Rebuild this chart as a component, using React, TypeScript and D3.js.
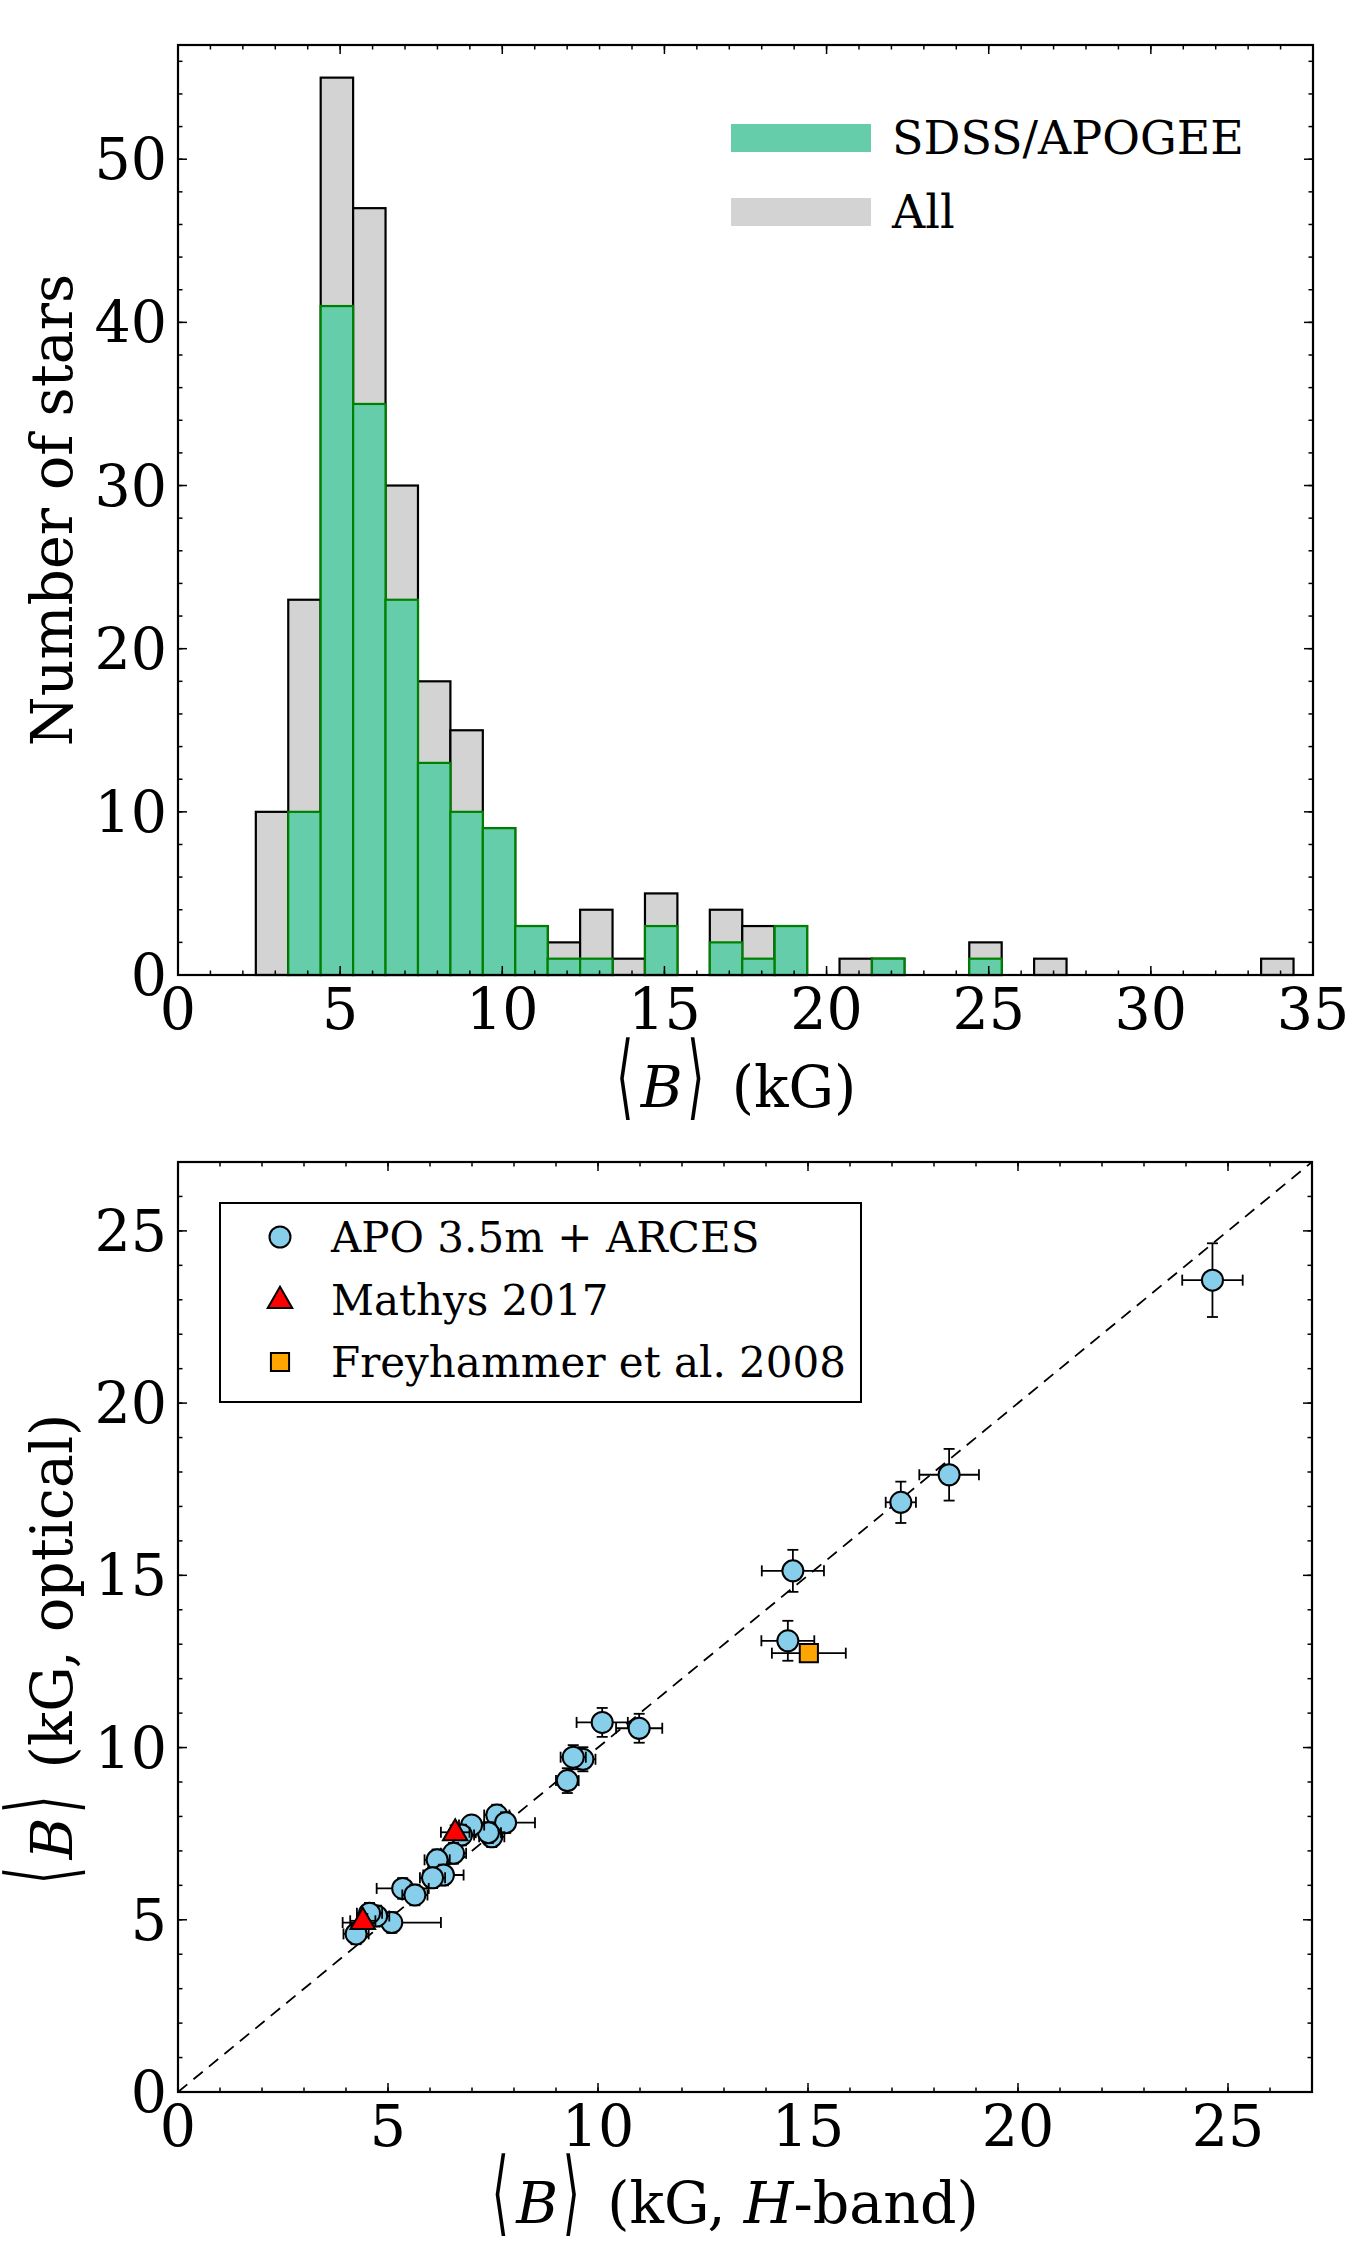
import React from "react";
import * as d3 from "d3";

// ---------- Histogram data ----------
const binEdges = [2.4, 3.4, 4.4, 5.4, 6.4, 7.4, 8.4, 9.4, 10.4, 11.4, 12.4, 13.4, 14.4, 15.4, 16.4, 17.4, 18.4, 19.4, 20.4, 21.4, 22.4, 23.4, 24.4, 25.4, 26.4, 27.4, 28.4, 29.4, 30.4, 31.4, 32.4, 33.4, 34.4];
const allCounts = [10, 23, 55, 47, 30, 18, 15, 9, 3, 2, 4, 1, 5, 0, 4, 3, 3, 0, 1, 1, 0, 0, 2, 0, 1, 0, 0, 0, 0, 0, 0, 1];
const sdssCounts = [0, 10, 41, 35, 23, 13, 10, 9, 3, 1, 1, 0, 3, 0, 2, 1, 3, 0, 0, 1, 0, 0, 1, 0, 0, 0, 0, 0, 0, 0, 0, 0];
const histXTicks = [0, 5, 10, 15, 20, 25, 30, 35];
const histYTicks = [0, 10, 20, 30, 40, 50];

// ---------- Scatter data ----------
const apoH = [24.63, 18.36, 17.21, 14.64, 14.52, 10.98, 10.10, 9.64, 9.41, 9.27, 7.59, 7.80, 7.47, 7.39, 6.99, 6.75, 6.56, 6.17, 6.32, 6.06, 5.35, 5.64, 5.09, 4.73, 4.56, 4.24];
const apoOpt = [23.57, 17.92, 17.12, 15.13, 13.10, 10.56, 10.73, 9.66, 9.72, 9.04, 8.04, 7.82, 7.41, 7.53, 7.75, 7.46, 6.93, 6.74, 6.30, 6.22, 5.91, 5.72, 4.92, 5.11, 5.19, 4.59];
const apoHerr = [0.72, 0.71, 0.36, 0.74, 0.63, 0.55, 0.61, 0.30, 0.30, 0.27, 0.30, 0.70, 0.30, 0.30, 0.30, 0.30, 0.30, 0.30, 0.48, 0.30, 0.62, 0.30, 1.17, 0.30, 0.30, 0.30];
const apoOptErr = [1.07, 0.75, 0.60, 0.61, 0.58, 0.42, 0.42, 0.35, 0.35, 0.36, 0.30, 0.30, 0.30, 0.30, 0.25, 0.30, 0.30, 0.30, 0.30, 0.30, 0.30, 0.30, 0.30, 0.30, 0.30, 0.30];
const mathysH = [6.60, 4.40];
const mathysOpt = [7.54, 4.97];
const mathysHerr = [0.34, 0.30];
const mathysOptErr = [0.20, 0.20];
const freyH = [15.02];
const freyOpt = [12.74];
const freyHerr = [0.88];
const freyOptErr = [0.20];
const scatXTicks = [0, 5, 10, 15, 20, 25];
const scatYTicks = [0, 5, 10, 15, 20, 25];

const FONT = "'DejaVu Serif', 'DejaVu Sans', serif";
const TICK_FS = 57;
const LEG_FS = 46;

let _ctx: CanvasRenderingContext2D | null = null;
function measure(txt: string, italic = false) {
  if (!_ctx) _ctx = document.createElement("canvas").getContext("2d");
  if (!_ctx) return txt.length * TICK_FS * 0.6;
  _ctx.font = `${italic ? "italic " : ""}${TICK_FS}px "DejaVu Serif"`;
  return _ctx.measureText(txt).width;
}

function minorRange(a: number, b: number, step: number) {
  return d3.range(a, b + 1e-9, step);
}

function Frame({ x, y, xMinor, yMinor, xTicks, yTicks }: any) {
  const [x0, x1] = x.range();
  const [y0, y1] = y.range();
  const maj = 9, mnr = 4.5;
  const els: any[] = [];
  xMinor.forEach((v: number, i: number) => {
    const px = x(v);
    if (px < x0 + 0.5 || px > x1 - 0.5) return;
    els.push(<line key={"xm" + i} x1={px} x2={px} y1={y0} y2={y0 - mnr} stroke="#000" strokeWidth={1.5} />);
    els.push(<line key={"xmt" + i} x1={px} x2={px} y1={y1} y2={y1 + mnr} stroke="#000" strokeWidth={1.5} />);
  });
  yMinor.forEach((v: number, i: number) => {
    const py = y(v);
    if (py > y0 - 0.5 || py < y1 + 0.5) return;
    els.push(<line key={"ym" + i} x1={x0} x2={x0 + mnr} y1={py} y2={py} stroke="#000" strokeWidth={1.5} />);
    els.push(<line key={"ymr" + i} x1={x1} x2={x1 - mnr} y1={py} y2={py} stroke="#000" strokeWidth={1.5} />);
  });
  xTicks.forEach((v: number, i: number) => {
    const px = x(v);
    if (px > x0 + 0.5 && px < x1 - 0.5) {
      els.push(<line key={"xM" + i} x1={px} x2={px} y1={y0} y2={y0 - maj} stroke="#000" strokeWidth={1.5} />);
      els.push(<line key={"xMt" + i} x1={px} x2={px} y1={y1} y2={y1 + maj} stroke="#000" strokeWidth={1.5} />);
    }
    els.push(
      <text key={"xl" + i} x={px} y={y0 + 54} textAnchor="middle" fontFamily={FONT} fontSize={TICK_FS}>
        {d3.format("d")(v)}
      </text>
    );
  });
  yTicks.forEach((v: number, i: number) => {
    const py = y(v);
    if (py < y0 - 0.5 && py > y1 + 0.5) {
      els.push(<line key={"yM" + i} x1={x0} x2={x0 + maj} y1={py} y2={py} stroke="#000" strokeWidth={1.5} />);
      els.push(<line key={"yMr" + i} x1={x1} x2={x1 - maj} y1={py} y2={py} stroke="#000" strokeWidth={1.5} />);
    }
    els.push(
      <text key={"yl" + i} x={x0 - 11} y={py + 20} textAnchor="end" fontFamily={FONT} fontSize={TICK_FS}>
        {d3.format("d")(v)}
      </text>
    );
  });
  els.push(<rect key="spine" x={x0} y={y1} width={x1 - x0} height={y0 - y1} fill="none" stroke="#000" strokeWidth={2.2} />);
  return <g>{els}</g>;
}

// Label of the form <B> + rest, with tall thin angle brackets
function MathLabel({ cx, cy, rotate, parts }: any) {
  const restW = parts.reduce((s: number, p: any) => s + measure(p.t, p.italic), 0);
  const W = 116 + restW;
  const tr = rotate
    ? `translate(${cx},${cy}) rotate(-90) translate(${-W / 2},0)`
    : `translate(${cx - W / 2},${cy})`;
  const bracket = (ch: string, bx: number) => (
    <text x={0} y={0} transform={`translate(${bx},0.5) scale(1.15,2.45)`} textAnchor="middle"
      fontFamily="'DejaVu Sans', sans-serif" fontSize={38}>{ch}</text>
  );
  return (
    <g transform={tr}>
      {bracket("⟨", 9)}
      <text x={25} y={0} fontFamily={FONT} fontSize={TICK_FS} fontStyle="italic">B</text>
      {bracket("⟩", 80)}
      <text x={116} y={0} fontFamily={FONT} fontSize={TICK_FS}>
        {parts.map((p: any, i: number) => (
          <tspan key={i} fontStyle={p.italic ? "italic" : "normal"}>{p.t}</tspan>
        ))}
      </text>
    </g>
  );
}

function ErrPoint({ cx, cy, ex0, ex1, ey0, ey1, children }: any) {
  const cap = 5.5;
  return (
    <g>
      <line x1={ex0} x2={ex1} y1={cy} y2={cy} stroke="#000" strokeWidth={1.8} />
      <line x1={cx} x2={cx} y1={ey0} y2={ey1} stroke="#000" strokeWidth={1.8} />
      <line x1={ex0} x2={ex0} y1={cy - cap} y2={cy + cap} stroke="#000" strokeWidth={1.8} />
      <line x1={ex1} x2={ex1} y1={cy - cap} y2={cy + cap} stroke="#000" strokeWidth={1.8} />
      <line x1={cx - cap} x2={cx + cap} y1={ey0} y2={ey0} stroke="#000" strokeWidth={1.8} />
      <line x1={cx - cap} x2={cx + cap} y1={ey1} y2={ey1} stroke="#000" strokeWidth={1.8} />
      {children}
    </g>
  );
}

export default function App() {
  const hx = d3.scaleLinear().domain([0, 35]).range([178, 1313]);
  const hy = d3.scaleLinear().domain([0, 57]).range([975, 45]);
  const sx = d3.scaleLinear().domain([0, 27]).range([178, 1312]);
  const sy = d3.scaleLinear().domain([0, 27]).range([2092, 1162]);

  const bins = allCounts.map((c, i) => ({ x0: binEdges[i], x1: binEdges[i + 1], all: c, sdss: sdssCounts[i] }));

  const tri = d3.symbol().type(d3.symbolTriangle).size(260)();
  const sq = d3.symbol().type(d3.symbolSquare).size(330)();
  const diag = d3.line<number>().x((d) => sx(d)).y((d) => sy(d));

  return (
    <svg width={1350} height={2250} style={{ position: "absolute", left: 0, top: 0, background: "#fff" }}>
      <rect x={0} y={0} width={1350} height={2250} fill="#fff" />
      {/* ---------- Top histogram ---------- */}
      <g>
        {bins.filter((b) => b.all > 0).map((b, i) => (
          <rect key={"a" + i} x={hx(b.x0)} y={hy(b.all)} width={hx(b.x1) - hx(b.x0)} height={hy(0) - hy(b.all)}
            fill="#D3D3D3" stroke="#000" strokeWidth={2.2} />
        ))}
        {bins.filter((b) => b.sdss > 0).map((b, i) => (
          <rect key={"s" + i} x={hx(b.x0)} y={hy(b.sdss)} width={hx(b.x1) - hx(b.x0)} height={hy(0) - hy(b.sdss)}
            fill="#66CDAA" stroke="#008000" strokeWidth={2.2} />
        ))}
      </g>
      <Frame x={hx} y={hy} xTicks={histXTicks} yTicks={histYTicks} xMinor={minorRange(0, 35, 1)} yMinor={minorRange(0, 57, 2)} />
      <rect x={731} y={124} width={140} height={28} fill="#66CDAA" />
      <text x={892} y={138} dy={16} fontFamily={FONT} fontSize={LEG_FS}>SDSS/APOGEE</text>
      <rect x={731} y={198} width={140} height={28} fill="#D3D3D3" />
      <text x={892} y={212} dy={16} fontFamily={FONT} fontSize={LEG_FS}>All</text>
      <MathLabel cx={745} cy={1107} parts={[{ t: " (kG)" }]} />
      <text x={72} y={510} transform="rotate(-90 72 510)" textAnchor="middle" fontFamily={FONT} fontSize={TICK_FS}>Number of stars</text>

      {/* ---------- Bottom scatter ---------- */}
      <path d={diag([0, 27]) || ""} stroke="#000" strokeWidth={1.8} strokeDasharray="12,8" fill="none" />
      {apoH.map((v, i) => (
        <ErrPoint key={"p" + i} cx={sx(v)} cy={sy(apoOpt[i])} ex0={sx(v - apoHerr[i])} ex1={sx(v + apoHerr[i])}
          ey0={sy(apoOpt[i] - apoOptErr[i])} ey1={sy(apoOpt[i] + apoOptErr[i])}>
          <circle cx={sx(v)} cy={sy(apoOpt[i])} r={10.5} fill="#87CEEB" stroke="#000" strokeWidth={2} />
        </ErrPoint>
      ))}
      {mathysH.map((v, i) => (
        <ErrPoint key={"m" + i} cx={sx(v)} cy={sy(mathysOpt[i])} ex0={sx(v - mathysHerr[i])} ex1={sx(v + mathysHerr[i])}
          ey0={sy(mathysOpt[i] - mathysOptErr[i])} ey1={sy(mathysOpt[i] + mathysOptErr[i])}>
          <path d={tri || ""} transform={`translate(${sx(v)},${sy(mathysOpt[i]) + 1})`} fill="#FF0000" stroke="#000" strokeWidth={2} />
        </ErrPoint>
      ))}
      {freyH.map((v, i) => (
        <ErrPoint key={"f" + i} cx={sx(v)} cy={sy(freyOpt[i])} ex0={sx(v - freyHerr[i])} ex1={sx(v + freyHerr[i])}
          ey0={sy(freyOpt[i] - freyOptErr[i])} ey1={sy(freyOpt[i] + freyOptErr[i])}>
          <path d={sq || ""} transform={`translate(${sx(v)},${sy(freyOpt[i])})`} fill="#FFA500" stroke="#000" strokeWidth={2} />
        </ErrPoint>
      ))}
      <Frame x={sx} y={sy} xTicks={scatXTicks} yTicks={scatYTicks} xMinor={minorRange(0, 27, 1)} yMinor={minorRange(0, 27, 1)} />
      <rect x={220} y={1203} width={641} height={199} fill="#fff" stroke="#000" strokeWidth={2} />
      <circle cx={280} cy={1237} r={10.5} fill="#87CEEB" stroke="#000" strokeWidth={2} />
      <text x={331} y={1237} dy={15} fontFamily={FONT} fontSize={LEG_FS - 4}>APO 3.5m + ARCES</text>
      <path d={tri || ""} transform="translate(280,1301)" fill="#FF0000" stroke="#000" strokeWidth={2} />
      <text x={331} y={1300} dy={15} fontFamily={FONT} fontSize={LEG_FS - 4}>Mathys 2017</text>
      <path d={sq || ""} transform="translate(280,1362)" fill="#FFA500" stroke="#000" strokeWidth={2} />
      <text x={331} y={1362} dy={15} fontFamily={FONT} fontSize={LEG_FS - 4}>Freyhammer et al. 2008</text>
      <MathLabel cx={744} cy={2223} parts={[{ t: " (kG, " }, { t: "H", italic: true }, { t: "-band)" }]} />
      <MathLabel cx={72} cy={1640} rotate parts={[{ t: " (kG, optical)" }]} />
    </svg>
  );
}
